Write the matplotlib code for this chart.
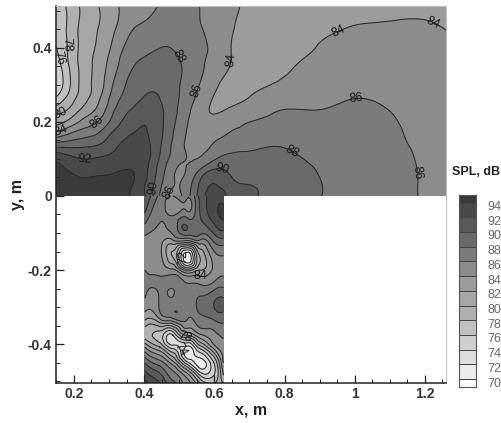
import numpy as np
import matplotlib
matplotlib.use("Agg")
import matplotlib.pyplot as plt
import matplotlib.tri as mtri
from matplotlib.ticker import MultipleLocator
from matplotlib.colors import ListedColormap, BoundaryNorm

plt.rcParams['font.family'] = ['Liberation Sans', 'DejaVu Sans']

levels = [70, 72, 74, 76, 78, 80, 82, 84, 86, 88, 90, 92, 94, 96]
band_grays = ['#ececec', '#dedede', '#cfcfcf', '#c0c0c0', '#b0b0b0', '#a6a6a6',
              '#9c9c9c', '#8c8c8c', '#7b7b7b', '#6a6a6a', '#595959', '#494949', '#3a3a3a']
below_gray = '#fbfbfb'

top_x = [0.15, 0.19, 0.23, 0.27, 0.31, 0.36, 0.405, 0.455, 0.50, 0.55, 0.60, 0.645, 0.695, 0.79, 0.89, 0.985, 1.085, 1.18, 1.265]
top_y = [0.513, 0.457, 0.403, 0.354, 0.303, 0.268, 0.232, 0.203, 0.173, 0.138, 0.10, 0.049, 0.0]
top_spl = [
 [76.5, 78.8, 80.6, 82.0, 83.4, 84.8, 85.5, 86.2, 86.5, 86.1, 85.4, 84.5, 83.7, 83.0, 83.0, 83.3, 83.5, 83.7, 83.4],
 [76.3, 78.7, 80.8, 82.0, 83.5, 85.6, 86.4, 87.0, 86.9, 86.2, 85.4, 84.3, 83.3, 83.0, 83.5, 84.0, 84.1, 84.2, 83.9],
 [76.0, 78.6, 80.9, 82.3, 84.3, 86.6, 87.4, 88.0, 87.5, 86.5, 85.6, 84.1, 83.0, 83.2, 84.0, 84.5, 84.4, 84.6, 84.3],
 [74.8, 78.4, 81.0, 82.8, 85.0, 87.6, 88.6, 89.0, 88.2, 86.6, 85.3, 84.0, 82.9, 83.5, 84.4, 85.0, 85.0, 84.9, 84.6],
 [74.2, 78.0, 81.0, 83.0, 85.9, 88.4, 89.5, 89.5, 88.1, 86.3, 84.5, 83.3, 83.4, 84.2, 85.0, 85.5, 85.4, 85.1, 84.8],
 [76.0, 78.8, 81.3, 83.5, 86.6, 89.0, 90.1, 89.7, 88.0, 85.8, 83.9, 83.3, 83.9, 85.0, 85.4, 85.9, 85.7, 85.2, 84.9],
 [79.0, 80.5, 82.7, 84.6, 87.6, 90.0, 91.0, 90.0, 87.7, 85.2, 83.8, 84.3, 85.0, 86.0, 86.0, 86.4, 86.1, 85.3, 85.0],
 [81.0, 82.5, 84.5, 86.0, 88.5, 90.9, 91.8, 90.0, 87.4, 85.0, 84.5, 85.3, 85.9, 86.4, 86.6, 86.8, 86.4, 85.4, 85.0],
 [84.0, 85.6, 86.8, 87.8, 90.0, 91.7, 92.1, 89.9, 87.0, 85.1, 85.2, 86.0, 86.4, 87.0, 87.0, 87.0, 86.6, 85.5, 85.0],
 [89.0, 89.2, 89.5, 90.0, 91.3, 92.8, 92.5, 89.5, 86.7, 85.2, 86.2, 87.0, 87.5, 87.9, 87.3, 87.1, 86.7, 85.7, 85.0],
 [93.6, 92.6, 92.0, 92.2, 92.6, 93.6, 92.7, 89.0, 86.5, 86.0, 87.8, 88.6, 88.6, 88.4, 87.7, 87.1, 86.7, 85.9, 85.1],
 [94.5, 94.2, 94.0, 94.1, 94.2, 94.3, 92.2, 88.0, 85.8, 88.8, 91.5, 90.2, 89.7, 88.8, 88.1, 87.1, 86.7, 86.0, 85.2],
 [94.8, 94.6, 94.5, 94.5, 94.6, 94.0, 92.0, 87.0, 85.6, 90.0, 93.0, 91.5, 90.4, 89.0, 88.2, 87.0, 86.7, 86.0, 85.3],
]

throat_x = [0.402, 0.445, 0.482, 0.522, 0.559, 0.599, 0.626]
throat_y = [0.0, -0.046, -0.119, -0.165, -0.2, -0.241, -0.289, -0.335, -0.376, -0.408, -0.451, -0.484, -0.505]
throat_spl = [
 [92.0, 87.5, 86.0, 86.5, 90.5, 93.0, 92.5],
 [90.0, 86.5, 85.5, 86.5, 90.0, 93.3, 94.5],
 [85.5, 84.8, 84.0, 84.5, 86.0, 88.5, 89.5],
 [85.5, 84.5, 80.0, 70.0, 80.0, 85.0, 85.8],
 [86.0, 85.5, 84.5, 79.0, 82.0, 84.5, 85.5],
 [86.3, 86.4, 86.4, 86.3, 86.2, 86.8, 87.5],
 [85.5, 86.3, 86.8, 87.2, 88.5, 90.0, 90.5],
 [82.0, 83.5, 85.0, 86.0, 87.2, 88.0, 88.5],
 [79.0, 77.0, 74.0, 80.0, 83.5, 85.5, 86.5],
 [84.0, 80.0, 75.0, 71.5, 77.0, 83.0, 85.0],
 [90.0, 87.0, 83.0, 75.0, 71.0, 76.0, 84.0],
 [93.0, 90.5, 87.0, 83.0, 76.0, 76.0, 82.0],
 [94.5, 92.0, 88.5, 85.0, 80.0, 78.0, 80.0],
]

top_labels = [(78, 0.19, 0.408), (76, 0.16, 0.373), (80, 0.16, 0.227), (84, 0.165, 0.173),
              (86, 0.27, 0.192), (92, 0.23, 0.097), (88, 0.493, 0.373), (86, 0.559, 0.281),
              (84, 0.659, 0.368), (84, 0.958, 0.44), (84, 1.228, 0.476), (86, 1.003, 0.265),
              (88, 0.824, 0.124), (90, 0.622, 0.07), (86, 1.18, 0.062), (90, 0.422, 0.024), (86, 0.465, 0.011)]
throat_labels = [(74, 0.516, -0.165), (86, 0.559, -0.224), (72, 0.516, -0.38), (80, 0.50, -0.415)]

cbar_ticks = [94, 92, 90, 88, 86, 84, 82, 80, 78, 76, 74, 72, 70]

W, H = 502, 423
fig = plt.figure(figsize=(5.02, 4.23), dpi=100)
ax = fig.add_axes([56/W, 1-383/H, (446-56)/W, (383-6)/H])
ax.set_xlim(0.149, 1.26)
ax.set_ylim(-0.505, 0.513)

cmap = ListedColormap(band_grays)
cmap.set_under(below_gray)
cmap.set_over(band_grays[-1])
norm = BoundaryNorm(levels, cmap.N)

def draw_field(xs, ys, zs, labels):
    X, Y = np.meshgrid(xs, ys)
    z = np.array(zs).ravel()
    tri = mtri.Triangulation(X.ravel(), Y.ravel())
    refiner = mtri.UniformTriRefiner(tri)
    interp = mtri.CubicTriInterpolator(tri, z, kind='min_E')
    fine_tri, fine_z = refiner.refine_field(z, triinterpolator=interp, subdiv=3)
    ax.tricontourf(fine_tri, fine_z, levels=levels, cmap=cmap, norm=norm, extend='both')
    cs = ax.tricontour(fine_tri, fine_z, levels=levels, colors='#2a2a2a', linewidths=0.75)
    pts = [(lx, ly) for _, lx, ly in labels]
    ax.clabel(cs, fmt='%d', manual=pts, inline=False, fontsize=9, colors='#1a1a1a')

draw_field(top_x, top_y, top_spl, top_labels)
draw_field(throat_x, throat_y, throat_spl, throat_labels)

for s in ['top', 'right']:
    ax.spines[s].set_color('#c0c0c0')
for s in ['left', 'bottom']:
    ax.spines[s].set_color('#222222')
    ax.spines[s].set_linewidth(1.1)

ax.set_xticks([0.2, 0.4, 0.6, 0.8, 1.0, 1.2], ['0.2', '0.4', '0.6', '0.8', '1', '1.2'])
ax.set_yticks([-0.4, -0.2, 0, 0.2, 0.4], ['-0.4', '-0.2', '0', '0.2', '0.4'])
ax.xaxis.set_minor_locator(MultipleLocator(0.05))
ax.yaxis.set_minor_locator(MultipleLocator(0.05))
ax.tick_params(which='major', direction='in', length=6, width=0.9, color='#222222', labelsize=10, labelcolor='#333333', pad=3)
ax.tick_params(which='minor', direction='in', length=3, width=0.7, color='#222222')
for t in ax.get_xticklabels() + ax.get_yticklabels():
    t.set_fontweight('bold')
ax.set_xlabel('x, m', fontsize=11.5, fontweight='bold', color='#222222', labelpad=1)
ax.set_ylabel('y, m', fontsize=11.5, fontweight='bold', color='#222222', labelpad=2)

cax = fig.add_axes([459/W, 1-387/H, 17/W, (387-195)/H])
cbar_edges = [69.32] + [70.4 + 2*k for k in range(13)] + [95.44]
cell_vals = np.array([69] + levels[:-1], dtype=float).reshape(-1, 1)
cax.pcolormesh([0, 1], cbar_edges, cell_vals, cmap=cmap, norm=norm, edgecolors='#444444', linewidth=0.7)
cax.set_ylim(69.32, 95.44)
cax.set_xticks([])
cax.yaxis.tick_right()
cax.set_yticks(cbar_ticks, [str(t) for t in cbar_ticks])
cax.tick_params(length=0, labelsize=9, labelcolor='#666666', pad=8)
for s in cax.spines.values():
    s.set_color('#555555')
    s.set_linewidth(0.8)
fig.text(476/W, 1-172/H, 'SPL, dB', fontsize=9, fontweight='bold', color='#222222', ha='center', va='center')

fig.savefig('out.png', dpi=100)
